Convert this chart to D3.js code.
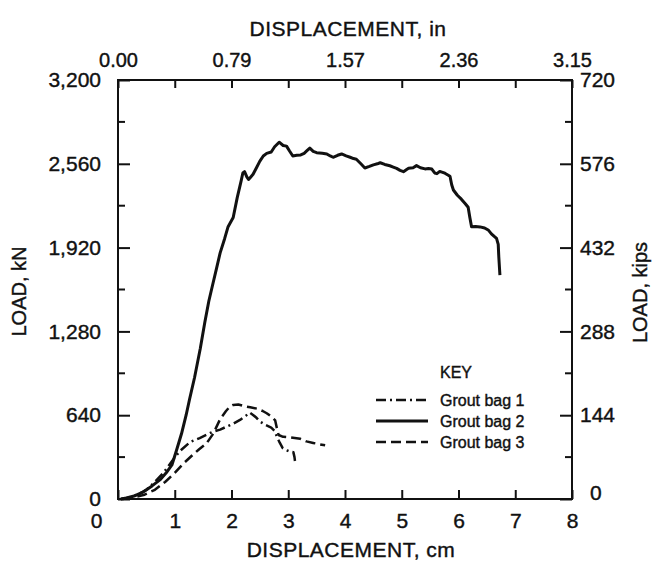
<!DOCTYPE html>
<html>
<head>
<meta charset="utf-8">
<script src="https://cdn.jsdelivr.net/npm/d3@7"></script>
<style>
  body { margin: 0; background: #fff; }
  svg { font-family: 'Liberation Sans', Arial, sans-serif; }
  text { fill: #111; stroke: #111; stroke-width: 0.4px; }
</style>
</head>
<body>
<svg id="chart" width="657" height="563"></svg>
<script>
// displacement (cm), load (kN)
const bag1 = [[0.05,0],[0.2,12],[0.35,35],[0.5,70],[0.65,130],[0.8,200],[0.97,300],[1.1,370],[1.27,435],[1.44,465],[1.56,490],[1.68,515],[1.8,530],[1.91,552],[2.03,575],[2.15,604],[2.25,635],[2.32,660],[2.38,642],[2.44,620],[2.5,592],[2.6,565],[2.7,545],[2.76,520],[2.8,476],[2.85,430],[2.9,390],[2.96,374],[3.03,362],[3.09,358],[3.11,320],[3.12,285]]

const bag2 = [[0.05,0],[0.15,8],[0.3,25],[0.45,55],[0.6,100],[0.75,150],[0.85,200],[0.95,260],[1.03,370],[1.12,500],[1.2,640],[1.26,760],[1.35,930],[1.45,1150],[1.53,1350],[1.6,1510],[1.67,1640],[1.73,1750],[1.8,1880],[1.88,1990],[1.94,2080],[2.03,2150],[2.1,2300],[2.17,2430],[2.2,2490],[2.23,2500],[2.27,2460],[2.3,2440],[2.34,2460],[2.38,2480],[2.44,2530],[2.5,2580],[2.56,2620],[2.62,2640],[2.7,2650],[2.76,2690],[2.84,2725],[2.91,2700],[2.97,2695],[3.02,2660],[3.08,2620],[3.15,2625],[3.22,2628],[3.28,2640],[3.33,2660],[3.38,2680],[3.44,2655],[3.5,2645],[3.6,2640],[3.68,2635],[3.74,2620],[3.79,2610],[3.87,2625],[3.94,2635],[4.02,2620],[4.09,2610],[4.15,2600],[4.2,2595],[4.28,2560],[4.35,2528],[4.43,2540],[4.5,2552],[4.57,2560],[4.62,2568],[4.7,2555],[4.79,2545],[4.85,2535],[4.91,2525],[4.97,2510],[5.03,2500],[5.08,2515],[5.12,2526],[5.2,2530],[5.26,2546],[5.33,2530],[5.41,2521],[5.47,2524],[5.53,2520],[5.58,2490],[5.62,2485],[5.67,2502],[5.72,2495],[5.76,2488],[5.85,2465],[5.88,2400],[5.91,2360],[5.98,2320],[6.05,2290],[6.12,2255],[6.17,2228],[6.2,2150],[6.23,2080],[6.3,2082],[6.38,2078],[6.46,2070],[6.53,2052],[6.58,2025],[6.63,2005],[6.67,1990],[6.7,1945],[6.71,1850],[6.73,1710]]

const bag3 = [[0.08,0],[0.25,10],[0.45,30],[0.65,70],[0.83,130],[1.0,200],[1.15,270],[1.3,330],[1.43,380],[1.56,425],[1.68,500],[1.8,610],[1.9,670],[1.97,705],[2.03,718],[2.12,722],[2.2,712],[2.27,705],[2.33,700],[2.45,690],[2.55,672],[2.62,655],[2.7,630],[2.77,600],[2.8,540],[2.83,489],[2.91,475],[3.05,470],[3.21,460],[3.32,440],[3.44,428],[3.55,418],[3.65,410]]

const series = [
  { name: 'Grout bag 1', values: bag1, dash: '10,4,2,4', width: 2.5 },
  { name: 'Grout bag 2', values: bag2, dash: null, width: 3 },
  { name: 'Grout bag 3', values: bag3, dash: '10,5', width: 2.5 }
]

const cmTicks = [0, 1, 2, 3, 4, 5, 6, 7, 8]
const inLabelTicks = [0, 2, 4, 6, 8]
const kNTicks = [0, 640, 1280, 1920, 2560, 3200]
const kNMinor = [320, 960, 1600, 2240, 2880]
const kipTicks = [0, 144, 288, 432, 576, 720]
const kipMinor = [72, 216, 360, 504, 648]

const mLeft = 118, mRight = 572, mTop = 80, mBottom = 499

const svg = d3.select('#chart')

const x = d3.scaleLinear().domain([0, 8]).range([mLeft, mRight])
const y = d3.scaleLinear().domain([0, 3200]).range([mBottom, mTop])
const yKip = d3.scaleLinear().domain([0, 720]).range([mBottom, mTop])

const fmtComma = d3.format(',')

// frame
svg.append('rect')
  .attr('x', mLeft).attr('y', mTop)
  .attr('width', mRight - mLeft).attr('height', mBottom - mTop)
  .attr('fill', 'none').attr('stroke', '#111').attr('stroke-width', 2)

// bottom axis (cm)
const gx = svg.append('g').attr('transform', `translate(0,${mBottom})`)
  .call(d3.axisBottom(x).tickValues(cmTicks).tickSizeInner(-9).tickSizeOuter(0).tickPadding(14).tickFormat(d3.format('d')))
gx.select('.domain').remove()
gx.selectAll('.tick line').attr('stroke', '#111').attr('stroke-width', 2)
gx.selectAll('.tick text').attr('font-size', 21)
  .attr('dx', d => d === 0 ? -22 : 0)

// top axis (in)
const gt = svg.append('g').attr('transform', `translate(0,${mTop})`)
  .call(d3.axisTop(x).tickValues(cmTicks).tickSizeInner(-8).tickSizeOuter(0).tickPadding(13)
    .tickFormat(d => inLabelTicks.includes(d) ? (d / 2.54).toFixed(2) : ''))
gt.select('.domain').remove()
gt.selectAll('.tick line').attr('stroke', '#111').attr('stroke-width', 2)
gt.selectAll('.tick text').attr('font-size', 20)

// left axis (kN)
const gy = svg.append('g').attr('transform', `translate(${mLeft},0)`)
  .call(d3.axisLeft(y).tickValues(kNTicks).tickSizeInner(-12).tickSizeOuter(0).tickPadding(17).tickFormat(fmtComma))
gy.select('.domain').remove()
gy.selectAll('.tick line').attr('stroke', '#111').attr('stroke-width', 2)
gy.selectAll('.tick text').attr('font-size', 21)

svg.append('g').selectAll('line')
  .data(kNMinor).enter().append('line')
  .attr('x1', mLeft).attr('x2', mLeft + 7)
  .attr('y1', d => y(d)).attr('y2', d => y(d))
  .attr('stroke', '#111').attr('stroke-width', 2)

// right axis (kips)
const gr = svg.append('g').attr('transform', `translate(${mRight},0)`)
  .call(d3.axisRight(yKip).tickValues(kipTicks).tickSizeInner(-12).tickSizeOuter(0).tickPadding(8))
gr.select('.domain').remove()
gr.selectAll('.tick line').attr('stroke', '#111').attr('stroke-width', 2)
gr.selectAll('.tick text').attr('font-size', 21)
  .attr('dx', d => d === 0 ? 10 : 0).attr('dy', d => d === 0 ? '0.0em' : '0.32em')

svg.append('g').selectAll('line')
  .data(kipMinor).enter().append('line')
  .attr('x1', mRight).attr('x2', mRight - 7)
  .attr('y1', d => yKip(d)).attr('y2', d => yKip(d))
  .attr('stroke', '#111').attr('stroke-width', 2)

// axis titles
svg.append('text')
  .attr('x', (mLeft + mRight) / 2 + 3).attr('y', 36)
  .attr('text-anchor', 'middle').attr('font-size', 21).attr('letter-spacing', 0.5)
  .text('DISPLACEMENT, in')

svg.append('text')
  .attr('x', (mLeft + mRight) / 2 + 6).attr('y', 557)
  .attr('text-anchor', 'middle').attr('font-size', 21).attr('letter-spacing', 0.5)
  .text('DISPLACEMENT, cm')

svg.append('text')
  .attr('transform', `translate(26,${(mTop + mBottom) / 2 + 2}) rotate(-90)`)
  .attr('text-anchor', 'middle').attr('font-size', 20)
  .text('LOAD, kN')

svg.append('text')
  .attr('transform', `translate(647,${(mTop + mBottom) / 2 + 3}) rotate(-90)`)
  .attr('text-anchor', 'middle').attr('font-size', 20)
  .text('LOAD, kips')

// curves
const line = d3.line()
  .x(d => x(d[0]))
  .y(d => y(d[1]))

svg.append('g')
  .selectAll('path')
  .data(series)
  .enter()
  .append('path')
  .attr('d', d => line(d.values))
  .attr('fill', 'none')
  .attr('stroke', '#111')
  .attr('stroke-width', d => d.width)
  .attr('stroke-linejoin', 'round')
  .attr('stroke-dasharray', d => d.dash)

// key
const key = svg.append('g').attr('transform', 'translate(376,378)')

key.append('text')
  .attr('x', 64).attr('y', 0)
  .attr('font-size', 16)
  .text('KEY')

const keyRows = key.selectAll('.key-row')
  .data(series)
  .enter()
  .append('g')
  .attr('class', 'key-row')
  .attr('transform', (d, i) => `translate(0,${22 + i * 21})`)

keyRows.append('line')
  .attr('x1', 0).attr('x2', 52)
  .attr('stroke', '#111')
  .attr('stroke-width', d => d.width)
  .attr('stroke-dasharray', d => d.dash)

keyRows.append('text')
  .attr('x', 64).attr('dy', '0.35em')
  .attr('font-size', 16)
  .text(d => d.name)
</script>
</body>
</html>
